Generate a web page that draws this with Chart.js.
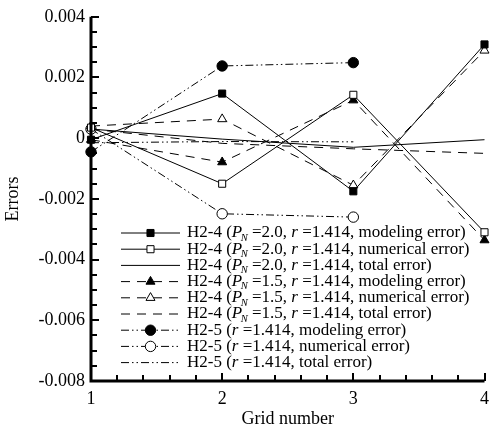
<!DOCTYPE html>
<html>
<head>
<meta charset="utf-8">
<script src="https://cdn.jsdelivr.net/npm/chart.js@4.4.0/dist/chart.umd.min.js"></script>
<style>
  html, body { margin: 0; padding: 0; background: #fff; }
  canvas { display: block; }
</style>
</head>
<body>
<canvas id="myChart" width="496" height="434"></canvas>
<script>
// Grid numbers on the x axis
const gridNumbers = [1, 2, 3, 4];

// H2-4, P_N = 2.0
const p20Modeling = [-0.00005, 0.00147, -0.00175, 0.00309];
const p20Numerical = [0.00035, -0.0015, 0.00143, -0.0031];
const p20Total = [0.0003, -0.00003, -0.0003, -0.00005];

// H2-4, P_N = 1.5
const p15Modeling = [-0.00005, -0.00079, 0.00125, -0.00336];
const p15Numerical = [0.0004, 0.00063, -0.00155, 0.00289];
const p15Total = [0.0003, -0.00017, -0.00035, -0.0005];

// H2-5 (only grids 1-3)
const h25Modeling = [-0.00045, 0.00238, 0.00249];
const h25Numerical = [0.0003, -0.00249, -0.0026];
const h25Total = [-0.00015, -0.00011, -0.00012];

// legend labels, {P} = italic P with subscript N, {r} = italic r
const labels = [
  'H2-4 ({P} =2.0, {r} =1.414, modeling error)',
  'H2-4 ({P} =2.0, {r} =1.414, numerical error)',
  'H2-4 ({P} =2.0, {r} =1.414, total error)',
  'H2-4 ({P} =1.5, {r} =1.414, modeling error)',
  'H2-4 ({P} =1.5, {r} =1.414, numerical error)',
  'H2-4 ({P} =1.5, {r} =1.414, total error)',
  'H2-5 ({r} =1.414, modeling error)',
  'H2-5 ({r} =1.414, numerical error)',
  'H2-5 ({r} =1.414, total error)'
];

const yTicks = [-0.008, -0.006, -0.004, -0.002, 0, 0.002, 0.004];

const FONT = 'Liberation Serif';
const solid = [];
const dashed = [9, 7];
const dashDotDot = [8, 3, 1.5, 3, 1.5, 3];

function toPoints(values) {
  return values.map((v, i) => ({ x: gridNumbers[i], y: v }));
}

function series(label, values, dash, style, filled) {
  return {
    label: label,
    data: toPoints(values),
    borderColor: '#000',
    borderWidth: 1,
    borderDash: dash,
    pointStyle: style || 'circle',
    pointRadius: style ? (style == 'rect' ? 5 : 5.2) : 0,
    pointBackgroundColor: filled ? '#000' : '#fff',
    pointBorderColor: '#000',
    pointBorderWidth: 1,
    fill: false,
    tension: 0,
    clip: false
  };
}

const datasets = [
  series(labels[0], p20Modeling, solid, 'rect', true),
  series(labels[1], p20Numerical, solid, 'rect', false),
  series(labels[2], p20Total, solid, null),
  series(labels[3], p15Modeling, dashed, 'triangle', true),
  series(labels[4], p15Numerical, dashed, 'triangle', false),
  series(labels[5], p15Total, dashed, null),
  series(labels[6], h25Modeling, dashDotDot, 'circle', true),
  series(labels[7], h25Numerical, dashDotDot, 'circle', false),
  series(labels[8], h25Total, dashDotDot, null)
];

// rich text: italic P with subscript N, italic r
function drawRich(ctx, text, x, y) {
  const parts = text.split(/(\{P\}|\{r\})/);
  const size = 17;
  ctx.textBaseline = 'middle';
  ctx.textAlign = 'left';
  for (const p of parts) {
    if (!p) continue;
    if (p == '{P}') {
      ctx.font = 'italic ' + size + 'px ' + FONT;
      ctx.fillText('P', x, y);
      x += ctx.measureText('P').width;
      ctx.font = 'italic ' + (size * 0.62) + 'px ' + FONT;
      ctx.fillText('N', x - 1.5, y + 5);
      x += ctx.measureText('N').width - 1.5;
    } else if (p == '{r}') {
      ctx.font = 'italic ' + size + 'px ' + FONT;
      ctx.fillText('r', x, y);
      x += ctx.measureText('r').width;
    } else {
      ctx.font = size + 'px ' + FONT;
      ctx.fillText(p, x, y);
      x += ctx.measureText(p).width;
    }
  }
}

const framePlugin = {
  id: 'frame',
  afterDraw(chart) {
    const ctx = chart.ctx;
    const a = chart.chartArea;
    const xs = chart.scales.x;
    const ys = chart.scales.y;
    ctx.save();
    ctx.strokeStyle = '#000';
    ctx.fillStyle = '#000';
    ctx.setLineDash([]);
    // inward ticks
    ctx.lineWidth = 2;
    for (let k = 0; k <= 24; k++) {
      const v = ys.min + k * 0.0005;
      const py = Math.round(ys.getPixelForValue(v));
      const len = k % 4 == 0 ? 8 : 6;
      ctx.beginPath();
      ctx.moveTo(a.left, py);
      ctx.lineTo(a.left + len, py);
      ctx.stroke();
    }
    for (let k = 0; k <= 15; k++) {
      const v = xs.min + k * 0.2;
      const px = Math.round(xs.getPixelForValue(v));
      const len = k % 5 == 0 ? 8 : 6;
      ctx.beginPath();
      ctx.moveTo(px, a.bottom);
      ctx.lineTo(px, a.bottom - len);
      ctx.stroke();
    }
    // axis lines
    ctx.lineWidth = 3;
    ctx.beginPath();
    ctx.moveTo(a.left, a.top);
    ctx.lineTo(a.left, a.bottom);
    ctx.lineTo(a.right, a.bottom);
    ctx.stroke();

    // legend
    const lx0 = 121, lx1 = 180, tx = 187, y0 = 233, dy = 16.2;
    chart.data.datasets.forEach((ds, i) => {
      const y = y0 + i * dy;
      ctx.lineWidth = ds.borderWidth;
      ctx.setLineDash(ds.borderDash);
      ctx.beginPath();
      ctx.moveTo(lx0, y);
      ctx.lineTo(lx1, y);
      ctx.stroke();
      ctx.setLineDash([]);
      if (ds.pointRadius > 0) {
        ctx.fillStyle = ds.pointBackgroundColor;
        ctx.strokeStyle = '#000';
        ctx.lineWidth = 1;
        Chart.helpers.drawPoint(ctx, {
          pointStyle: ds.pointStyle, radius: ds.pointRadius, rotation: 0, borderWidth: 1
        }, (lx0 + lx1) / 2, y);
      }
      ctx.fillStyle = '#000';
      drawRich(ctx, ds.label, tx, y);
    });
    ctx.restore();
  }
};

const ctx = document.getElementById('myChart').getContext('2d');
new Chart(ctx, {
  type: 'line',
  data: { datasets: datasets },
  options: {
    responsive: false,
    animation: false,
    layout: { padding: { top: 15, right: 6, left: 0, bottom: 0 } },
    plugins: { legend: { display: false }, tooltip: { enabled: false } },
    scales: {
      x: {
        type: 'linear',
        min: 1,
        max: 4,
        grid: { display: false, drawTicks: false },
        border: { display: false },
        ticks: {
          stepSize: 1,
          padding: 7,
          color: '#000',
          font: { family: FONT, size: 18 },
          callback: v => String(v)
        },
        title: {
          display: true,
          text: 'Grid number',
          color: '#000',
          font: { family: FONT, size: 18 },
          padding: { top: 0, bottom: 4 }
        },
        afterFit: s => { s.height = 53; }
      },
      y: {
        min: -0.008,
        max: 0.004,
        grid: { display: false, drawTicks: false },
        border: { display: false },
        afterBuildTicks: s => { s.ticks = yTicks.map(v => ({ value: v })); },
        ticks: {
          padding: 6,
          color: '#000',
          font: { family: FONT, size: 18 },
          callback: v => (Math.abs(v) < 1e-9 ? '0' : v.toFixed(3))
        },
        title: {
          display: true,
          text: 'Errors',
          color: '#000',
          font: { family: FONT, size: 18 },
          padding: { top: 2, bottom: 0 }
        },
        afterFit: s => { s.width = 91; }
      }
    }
  },
  plugins: [framePlugin]
});
</script>
</body>
</html>
